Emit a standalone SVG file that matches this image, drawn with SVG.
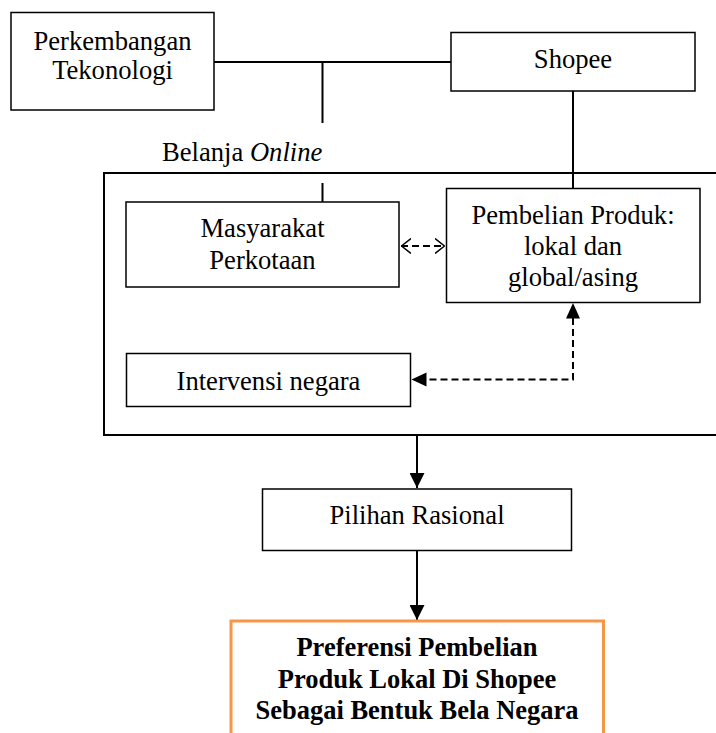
<svg xmlns="http://www.w3.org/2000/svg" width="716" height="733" viewBox="0 0 716 733">
<defs>
<style>
.box{fill:#fff;stroke:#000;stroke-width:1.5}
.frame{fill:none;stroke:#000;stroke-width:2}
.line{fill:none;stroke:#000;stroke-width:2}
.dash{fill:none;stroke:#000;stroke-width:2;stroke-dasharray:7 4}
.head{fill:#000;stroke:none}
text{font-family:"Liberation Serif","Times New Roman",serif;font-size:26.6px;fill:#000;text-anchor:middle}
.bold{font-weight:bold;font-size:26.5px}
</style>
<marker id="fill" viewBox="0 0 10 10" refX="10" refY="5" markerWidth="15" markerHeight="15" markerUnits="userSpaceOnUse" orient="auto">
<path d="M0,0 L10,5 L0,10 Z" fill="#000"/>
</marker>
<marker id="open" viewBox="0 0 10 16" refX="10" refY="8" markerWidth="10" markerHeight="16" markerUnits="userSpaceOnUse" orient="auto-start-reverse">
<path d="M0,0.5 L9.5,8 L0,15.5" fill="none" stroke="#000" stroke-width="1.5"/>
</marker>
</defs>

<g id="belanja-online">
<rect class="frame" x="104" y="173" width="620" height="262"/>
<text x="162" y="161" style="text-anchor:start">Belanja <tspan font-style="italic">Online</tspan></text>
</g>

<g id="connectors">
<polyline class="line" points="214,62 451,62"/>
<line class="line" x1="322.5" y1="62" x2="322.5" y2="123"/>
<line class="line" x1="322.5" y1="183" x2="322.5" y2="202"/>
<line class="line" x1="573" y1="91" x2="573" y2="188"/>
<line class="dash" x1="401" y1="246" x2="445" y2="246" marker-start="url(#open)" marker-end="url(#open)"/>
<polyline class="dash" points="573,318 573,379.5 426,379.5"/>
<path class="head" d="M573,303 L580,318.5 L566,318.5 Z"/>
<path class="head" d="M411.5,379.5 L426.5,372.5 L426.5,386.5 Z"/>
<line class="line" x1="417" y1="435" x2="417" y2="488" marker-end="url(#fill)"/>
<line class="line" x1="417" y1="551" x2="417" y2="620" marker-end="url(#fill)"/>
</g>

<g id="perkembangan">
<rect class="box" x="11" y="12.5" width="203" height="97.5"/>
<text x="112.5" y="50">Perkembangan</text>
<text x="112.5" y="79">Tekonologi</text>
</g>

<g id="shopee">
<rect class="box" x="451" y="32.5" width="244" height="58.5"/>
<text x="573" y="68">Shopee</text>
</g>

<g id="masyarakat">
<rect class="box" x="126" y="202" width="273" height="85"/>
<text x="262.5" y="237">Masyarakat</text>
<text x="262.5" y="268.5">Perkotaan</text>
</g>

<g id="pembelian">
<rect class="box" x="446.5" y="188.5" width="253.5" height="114"/>
<text x="573" y="223.5">Pembelian Produk:</text>
<text x="573" y="255">lokal dan</text>
<text x="573" y="286">global/asing</text>
</g>

<g id="intervensi">
<rect class="box" x="126.5" y="353.5" width="284" height="53"/>
<text x="268.5" y="389.5">Intervensi negara</text>
</g>

<g id="pilihan">
<rect class="box" x="262.5" y="489" width="309" height="61.5"/>
<text x="417" y="523.5">Pilihan Rasional</text>
</g>

<g id="preferensi">
<rect x="231" y="621" width="372.5" height="130" fill="#fff" stroke="#F79646" stroke-width="3"/>
<text class="bold" x="417" y="656">Preferensi Pembelian</text>
<text class="bold" x="417" y="687.5">Produk Lokal Di Shopee</text>
<text class="bold" x="417" y="719">Sebagai Bentuk Bela Negara</text>
</g>
</svg>
